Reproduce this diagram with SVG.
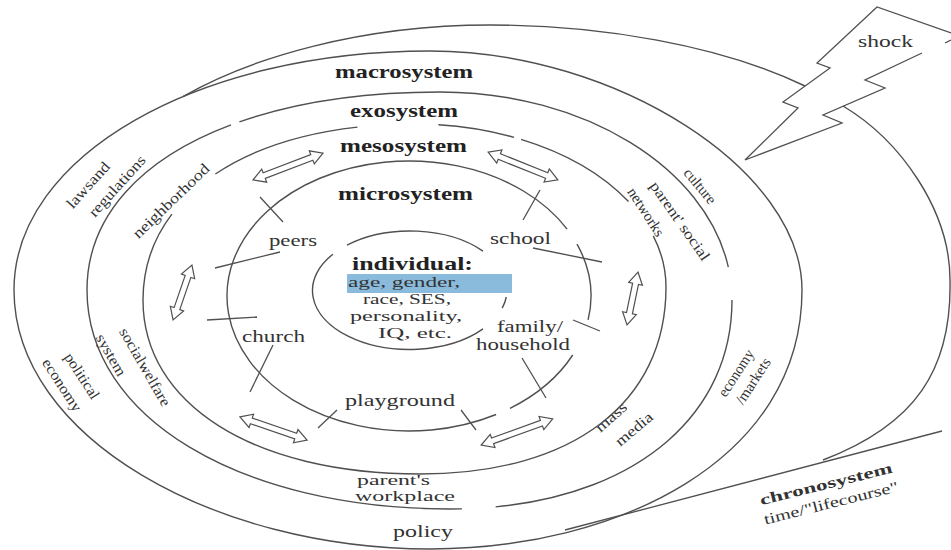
<svg xmlns="http://www.w3.org/2000/svg" width="951" height="550" viewBox="0 0 951 550">
<style>
.ring{fill:none;stroke:#505050;stroke-width:1.4}
.ln{fill:none;stroke:#505050;stroke-width:1.3}
.arr{fill:#fff;stroke:#505050;stroke-width:1.2}
text{font-family:"Liberation Serif","Times New Roman",serif;fill:#333}
.sys{font-weight:bold;font-size:19px;fill:#222}
.lab{font-size:17px}
.in{font-size:14px}
.rot{font-size:15px;text-anchor:middle}
</style>
<rect width="951" height="550" fill="#fff"/>

<g id="chronosystem">
  <path class="ring" d="M182.9,96.6 C250,58 360,25 490,25 C600,25 720,45 805,86"/>
  <path class="ring" d="M843,106 C900,140 950,210 950,280 C952,370 915,425 823,460"/>
  <path class="ln" d="M942,431 L565,530"/>
  <text class="rot" font-weight="bold" font-size="16" fill="#222" transform="translate(826,484) rotate(-14)" y="5" textLength="136" lengthAdjust="spacingAndGlyphs">chronosystem</text>
  <text class="rot" transform="translate(831,503) rotate(-14)" y="5" textLength="138" lengthAdjust="spacingAndGlyphs">time/"lifecourse"</text>
</g>

<g id="shock">
  <polyline class="ln" points="951,33 877,7 817,63 830,68 783,102 798,108 745,160 842,123 823,115 885,88 865,80 922,53"/>
  <line class="ln" x1="945" y1="43" x2="951" y2="40"/>
  <text class="lab" font-size="16" x="858" y="47" textLength="55" lengthAdjust="spacingAndGlyphs">shock</text>
</g>

<g id="macrosystem">
  <path class="ring" d="M14,290 C14,156.2 197,51 430,51 C616,51 802,170.5 802,290 C802,460.9 616,549 430,549 C215,549 14,437.6 14,290 Z"/>
  <text class="sys" x="335" y="78" textLength="138" lengthAdjust="spacingAndGlyphs">macrosystem</text>
  <text class="rot" transform="translate(88,185) rotate(-48)" y="5" textLength="57" lengthAdjust="spacingAndGlyphs">lawsand</text>
  <text class="rot" transform="translate(117,186) rotate(-48)" y="5" textLength="77" lengthAdjust="spacingAndGlyphs">regulations</text>
  <text class="rot" transform="translate(82,376) rotate(57)" y="5" textLength="52" lengthAdjust="spacingAndGlyphs">political</text>
  <text class="rot" transform="translate(62,385) rotate(57)" y="5" textLength="60" lengthAdjust="spacingAndGlyphs">economy</text>
  <text class="rot" transform="translate(700,186) rotate(50)" y="5" textLength="42" lengthAdjust="spacingAndGlyphs">culture</text>
  <text class="rot" transform="translate(736,373) rotate(-57)" y="5" textLength="53" lengthAdjust="spacingAndGlyphs">economy</text>
  <text class="rot" transform="translate(753,381) rotate(-57)" y="5" textLength="52" lengthAdjust="spacingAndGlyphs">/markets</text>
  <text class="lab" font-size="16" x="393" y="537" textLength="60" lengthAdjust="spacingAndGlyphs">policy</text>
</g>

<g id="exosystem">
  <path class="ring" pathLength="100" stroke-dasharray="52.4 2 60" d="M87,290 C87,171.2 228.2,92 440,92"/>
  <path class="ring" pathLength="100" stroke-dasharray="91.6 9" d="M440,92 C600.6,92 732,185.6 732,300"/>
  <path class="ring" pathLength="100" stroke-dasharray="88.4 8.6 5" d="M732,300 C732,425.4 619.2,509 450,509"/>
  <path class="ring" d="M450,509 C239.5,509 87,417 87,290"/>
  <text class="sys" x="350" y="117" textLength="108" lengthAdjust="spacingAndGlyphs">exosystem</text>
  <text class="rot" transform="translate(171,201) rotate(-44)" y="5" textLength="100" lengthAdjust="spacingAndGlyphs">neighborhood</text>
  <text class="rot" transform="translate(145,367) rotate(60)" y="5" textLength="88" lengthAdjust="spacingAndGlyphs">socialwelfare</text>
  <text class="rot" transform="translate(111,355) rotate(60)" y="5" textLength="46" lengthAdjust="spacingAndGlyphs">system</text>
  <text class="rot" transform="translate(680,221) rotate(55)" y="5" textLength="93" lengthAdjust="spacingAndGlyphs">parent' social</text>
  <text class="rot" transform="translate(646,212) rotate(57)" y="5" textLength="55" lengthAdjust="spacingAndGlyphs">networks</text>
  <text class="rot" transform="translate(611,417) rotate(-42)" y="5" textLength="37" lengthAdjust="spacingAndGlyphs">mass</text>
  <text class="rot" transform="translate(634,429) rotate(-40)" y="5" textLength="44" lengthAdjust="spacingAndGlyphs">media</text>
  <text class="in" x="357" y="485" textLength="73" lengthAdjust="spacingAndGlyphs">parent's</text>
  <text class="in" x="355" y="501" textLength="100" lengthAdjust="spacingAndGlyphs">workplace</text>
</g>

<g id="mesosystem">
  <path class="ring" pathLength="100" stroke-dasharray="25.6 16.5 41.9 16" d="M143,300 C143,194.4 251.8,124 415,124"/>
  <path class="ring" pathLength="100" stroke-dasharray="0 7.1 23.4 2.2 38.2 12.9 17" d="M415,124 C553,124 666,197.3 666,287"/>
  <path class="ring" d="M666,287 C666,402.9 572.5,474 420,474 C253.8,474 143,404.4 143,300"/>
  <text class="sys" x="340" y="152" textLength="127" lengthAdjust="spacingAndGlyphs">mesosystem</text>
</g>

<g id="microsystem">
  <path class="ring" d="M572.7,355 A182,135 0 0 1 510,408.3"/>
  <path class="ring" d="M496.1,414.5 A182,135 0 1 1 567.1,229.1"/>
  <path class="ring" d="M577,244.1 A182,135 0 0 1 588.1,319.9"/>
  <text class="sys" x="338" y="200" textLength="135" lengthAdjust="spacingAndGlyphs">microsystem</text>
</g>

<g id="peers"><text class="lab" font-size="16" x="269" y="246" textLength="48" lengthAdjust="spacingAndGlyphs">peers</text></g>
<g id="school"><text class="lab" font-size="16" x="490" y="244" textLength="61" lengthAdjust="spacingAndGlyphs">school</text></g>
<g id="church"><text class="lab" font-size="16" x="242" y="342" textLength="63" lengthAdjust="spacingAndGlyphs">church</text></g>
<g id="family"><text class="lab" font-size="16" x="497" y="332" textLength="66" lengthAdjust="spacingAndGlyphs">family/</text>
  <text class="lab" font-size="16" x="476" y="350" textLength="94" lengthAdjust="spacingAndGlyphs">household</text></g>
<g id="playground"><text class="lab" font-size="16" x="345" y="406" textLength="110" lengthAdjust="spacingAndGlyphs">playground</text></g>

<g id="individual">
  <rect x="347" y="274" width="165" height="19" fill="#8bbbdc"/>
  <path class="ring" d="M347,245.1 A97,59 0 0 1 483,251.1"/>
  <path class="ring" d="M483,328.9 A97,59 0 0 1 332.9,254.2"/>
  <path class="ring" d="M506.3,297 A97,59 0 0 1 502.2,308.2"/>
  <text class="sys" font-size="16" x="352" y="270" textLength="121" lengthAdjust="spacingAndGlyphs">individual:</text>
  <text class="in" x="348" y="287" textLength="112" lengthAdjust="spacingAndGlyphs" fill="#3a4656">age, gender,</text>
  <text class="in" x="363" y="304" textLength="88" lengthAdjust="spacingAndGlyphs">race, SES,</text>
  <text class="in" x="350" y="321" textLength="112" lengthAdjust="spacingAndGlyphs">personality,</text>
  <text class="in" x="378" y="338" textLength="74" lengthAdjust="spacingAndGlyphs">IQ, etc.</text>
</g>

<g id="connectors">
  <path class="arr" transform="translate(288,166.5) rotate(-21)" d="M-37.5,0 L-25.5,-7 L-25.5,-3 L25.5,-3 L25.5,-7 L37.5,0 L25.5,7 L25.5,3 L-25.5,3 L-25.5,7 Z"/>
  <path class="arr" transform="translate(523,166) rotate(21.8)" d="M-37.5,0 L-25.5,-7 L-25.5,-3 L25.5,-3 L25.5,-7 L37.5,0 L25.5,7 L25.5,3 L-25.5,3 L-25.5,7 Z"/>
  <path class="arr" transform="translate(182.5,292.5) rotate(109)" d="M-29,0 L-17,-7 L-17,-3 L17,-3 L17,-7 L29,0 L17,7 L17,3 L-17,3 L-17,7 Z"/>
  <path class="arr" transform="translate(632.5,298.5) rotate(101.7)" d="M-27,0 L-15,-7 L-15,-3 L15,-3 L15,-7 L27,0 L15,7 L15,3 L-15,3 L-15,7 Z"/>
  <path class="arr" transform="translate(273.5,428.5) rotate(19)" d="M-35.5,0 L-23.5,-7 L-23.5,-3 L23.5,-3 L23.5,-7 L35.5,0 L23.5,7 L23.5,3 L-23.5,3 L-23.5,7 Z"/>
  <path class="arr" transform="translate(517,432) rotate(-20)" d="M-38,0 L-26,-7 L-26,-3 L26,-3 L26,-7 L38,0 L26,7 L26,3 L-26,3 L-26,7 Z"/>
  <line class="ln" x1="260" y1="197" x2="283" y2="222"/>
  <line class="ln" x1="215" y1="268" x2="280" y2="252"/>
  <line class="ln" x1="207" y1="320" x2="257" y2="317"/>
  <line class="ln" x1="273" y1="345" x2="250" y2="392"/>
  <line class="ln" x1="318" y1="428" x2="337" y2="410"/>
  <line class="ln" x1="461" y1="410" x2="476" y2="430"/>
  <line class="ln" x1="522" y1="358" x2="546" y2="398"/>
  <line class="ln" x1="573" y1="320" x2="600" y2="331"/>
  <line class="ln" x1="523" y1="220" x2="540" y2="190"/>
  <line class="ln" x1="533" y1="248" x2="602" y2="262"/>
</g>
</svg>
